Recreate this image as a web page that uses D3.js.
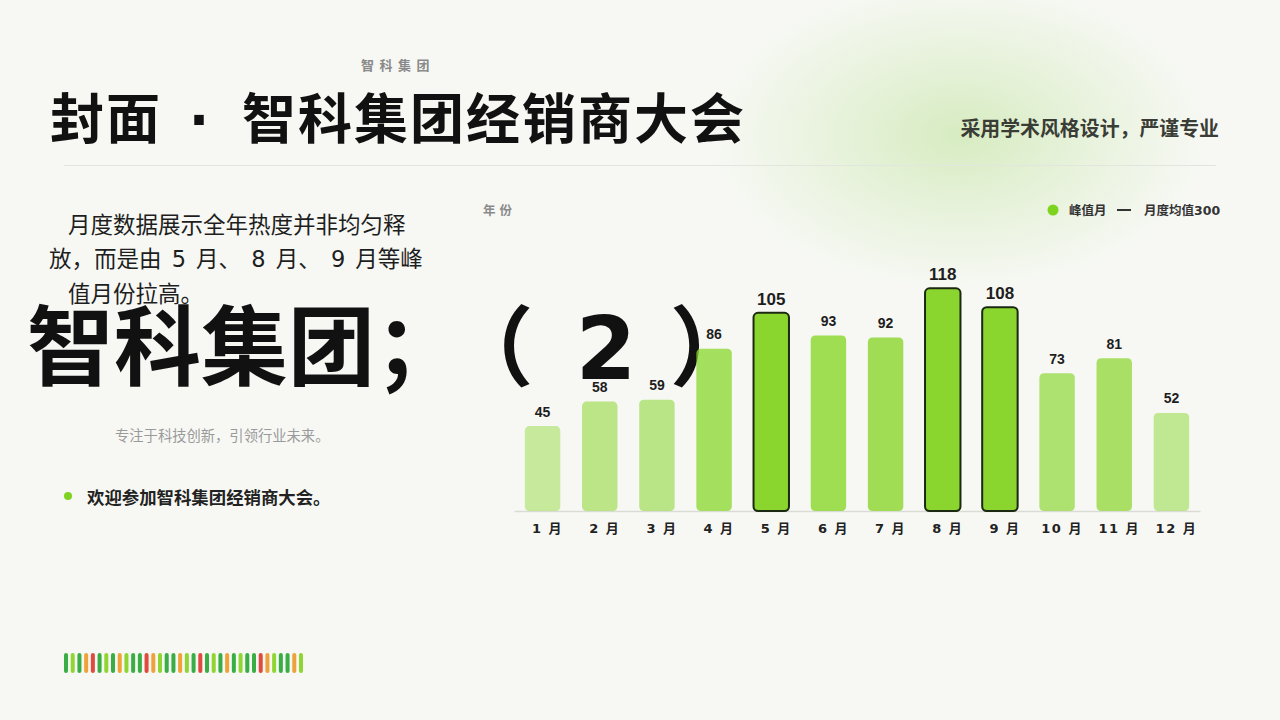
<!DOCTYPE html>
<html><head><meta charset="utf-8">
<script src="https://cdn.jsdelivr.net/npm/d3@7"></script>
<style>
html,body{margin:0;padding:0;background:#f7f8f4;}
svg{display:block;}
</style></head>
<body>
<svg id="c" width="1280" height="720"></svg>
<script>
const months = ["1 月","2 月","3 月","4 月","5 月","6 月","7 月","8 月","9 月","10 月","11 月","12 月"];
const values = [45,58,59,86,105,93,92,118,108,73,81,52];
const peakMonths = ["5 月","8 月","9 月"];
const legendLabels = ["峰值月","月度均值300"];
const stripeKinds = ["dg","lg","dg","or","rd","dg","lg","dg","or","lg","dg","dg","rd","or","lg","dg","dg","or",
                     "lg","dg","rd","dg","lg","dg","or","dg","lg","dg","dg","rd","or","lg","dg","dg","or","lg"];
const paragraphLines = ["月度数据展示全年热度并非均匀释","放，而是由 5 月、 8 月、 9 月等峰","值月份拉高。"];
const titleParts = ["封面","·","智科集团经销商大会"];
const bigParts = ["智科集团；","（"," 2 ","）"];

const CJK = '"Noto Sans CJK SC", sans-serif';
const DJ = '"DejaVu Sans", "Noto Sans CJK SC", sans-serif';
const LIB = '"Liberation Sans", "Noto Sans CJK SC", sans-serif';

const svg = d3.select("#c");
const defs = svg.append("defs");
const rg = defs.append("radialGradient").attr("id","glow")
  .attr("cx",0.5).attr("cy",0.5).attr("r",0.5);
rg.append("stop").attr("offset","0%").attr("stop-color","#8ccf4a").attr("stop-opacity",0.3);
rg.append("stop").attr("offset","45%").attr("stop-color","#8ccf4a").attr("stop-opacity",0.16);
rg.append("stop").attr("offset","100%").attr("stop-color","#8ccf4a").attr("stop-opacity",0);

svg.append("rect").attr("width",1280).attr("height",720).attr("fill","#f7f8f4");
svg.append("ellipse").attr("cx",960).attr("cy",135).attr("rx",250).attr("ry",155).attr("fill","url(#glow)");

// header
svg.append("text").attr("x",361).attr("y",70).attr("font-family",CJK).attr("font-weight",700)
  .attr("font-size",13).attr("letter-spacing",5.5).attr("fill","#8a8a8a").text("智科集团");
const title = svg.append("text").attr("y",139).attr("font-family",DJ).attr("font-weight",700)
  .attr("font-size",54).attr("letter-spacing",2).attr("fill","#111");
title.append("tspan").attr("x",50).text(titleParts[0]);
title.append("tspan").attr("x",200).attr("text-anchor","middle").text(titleParts[1]);
title.append("tspan").attr("x",242).text(titleParts[2]);
svg.append("text").attr("x",1219).attr("y",136).attr("text-anchor","end").attr("font-family",CJK).attr("font-weight",700)
  .attr("font-size",19.9).attr("fill","#3a3d36").text("采用学术风格设计，严谨专业");
svg.append("line").attr("x1",64).attr("x2",1216).attr("y1",165.5).attr("y2",165.5)
  .attr("stroke","#e3e5df").attr("stroke-width",1.2);

// left text
svg.selectAll("text.para").data(paragraphLines).join("text").attr("class","para")
  .attr("x",(d,i)=> i===1?49:68).attr("y",(d,i)=>232.5+i*34.5)
  .attr("word-spacing",(d,i)=> i===1?3:0)
  .attr("font-family",DJ).attr("font-size",22.5).attr("fill","#1e1e1e").text(d=>d);

const big = svg.append("text").attr("x",27).attr("y",379).attr("font-family",DJ).attr("font-weight",700)
  .attr("font-size",87).attr("fill","#111");
const bigDx = [0,28,12,3];
big.selectAll("tspan").data(bigParts).join("tspan").attr("dx",(d,i)=>bigDx[i]).text(d=>d);

svg.append("text").attr("x",115).attr("y",441).attr("font-family",CJK)
  .attr("font-size",14.3).attr("fill","#9a9a9a").text("专注于科技创新，引领行业未来。");
svg.append("circle").attr("cx",68).attr("cy",496).attr("r",4).attr("fill","#7ed321");
svg.append("text").attr("x",87).attr("y",503.5).attr("font-family",CJK).attr("font-weight",700)
  .attr("font-size",17.4).attr("fill","#222").text("欢迎参加智科集团经销商大会。");

// stripes
const stripeColor = d3.scaleOrdinal().domain(["dg","lg","or","rd"]).range(["#3aae45","#8fd533","#eea23a","#e04a3f"]);
const sx = d3.scaleBand().domain(d3.range(stripeKinds.length)).range([64,303]).paddingInner(0.4).paddingOuter(0);
svg.append("g").selectAll("rect").data(stripeKinds).join("rect")
  .attr("x",(d,i)=>sx(i)).attr("y",653).attr("width",sx.bandwidth()).attr("height",20).attr("rx",2)
  .attr("fill",d=>stripeColor(d));

// chart
const x = d3.scaleBand().domain(months).range([514,1200]).paddingInner(0.38).paddingOuter(0.19);
const y = d3.scaleLinear().domain([0,130]).range([511,265.7]);
const op = d3.scaleLinear().domain(d3.extent(values)).range([0.45,1]);
const data = months.map((m,i)=>({m, v:values[i], peak: peakMonths.includes(m)}));

svg.append("text").attr("x",483).attr("y",215).attr("font-family",CJK).attr("font-weight",700)
  .attr("font-size",12.5).attr("letter-spacing",4).attr("fill","#8a8a8a").text("年份");

const lg = svg.append("g");
lg.append("circle").attr("cx",1053).attr("cy",210).attr("r",5.5).attr("fill","#7ed321");
lg.append("text").attr("x",1069).attr("y",214.5).attr("font-family",DJ).attr("font-weight",700)
  .attr("font-size",12.5).attr("fill","#333").text(legendLabels[0]);
lg.append("line").attr("x1",1117).attr("x2",1131).attr("y1",210).attr("y2",210).attr("stroke","#333").attr("stroke-width",2);
lg.append("text").attr("x",1144).attr("y",214.5).attr("font-family",DJ).attr("font-weight",700)
  .attr("font-size",12.5).attr("fill","#333").text(legendLabels[1]);

const ax = svg.append("g").attr("transform","translate(0,511)")
  .call(d3.axisBottom(x).tickSize(0).tickSizeOuter(0).tickPadding(13));
ax.select(".domain").attr("stroke","#d9dbd5").attr("stroke-width",1.5);
ax.selectAll(".tick text").attr("font-family",DJ).attr("font-weight",700).attr("font-size",13)
  .attr("letter-spacing",1.5).attr("dx",5).attr("fill","#222");

svg.append("g").selectAll("rect").data(data).join("rect")
  .attr("x",d=>x(d.m)).attr("width",x.bandwidth())
  .attr("y",d=>y(d.v)).attr("height",d=>y(0)-y(d.v)).attr("rx",4.5)
  .attr("fill","#8ad62e").attr("fill-opacity",d=>d.peak?1:op(d.v))
  .attr("stroke",d=>d.peak?"#1c2812":"none").attr("stroke-width",2);

svg.append("g").selectAll("text").data(data).join("text")
  .attr("x",d=>x(d.m)+x.bandwidth()/2).attr("y",d=>y(d.v)-(d.peak?8:9.5))
  .attr("text-anchor","middle").attr("font-family",LIB).attr("font-weight",700)
  .attr("font-size",d=>d.peak?17:14).attr("fill","#1e1e1e").text(d=>d.v);
</script>
</body></html>
